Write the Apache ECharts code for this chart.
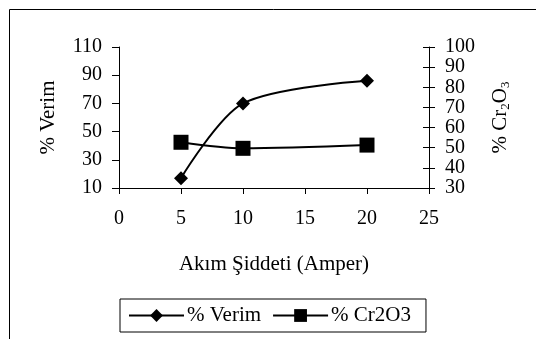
<!DOCTYPE html>
<html>
<head>
<meta charset="utf-8">
<script src="https://cdn.jsdelivr.net/npm/echarts@6/dist/echarts.min.js"></script>
<style>
  html, body { margin: 0; padding: 0; background: #fff; }
  #chart { width: 536px; height: 339px; }
</style>
</head>
<body>
<div id="chart"></div>
<script>
// akım şiddeti (amper)
const currents = [5, 10, 20]
// % verim (sol eksen)
const verim = [17, 70, 86]
// % Cr2O3 (sağ eksen)
const cr2o3 = [52.7, 49.7, 51.3]

const font = 'Liberation Serif'
const chart = echarts.init(document.getElementById('chart'))

const axisLine = { lineStyle: { color: '#000', width: 1 } }
const tickStyle = { color: '#000', fontFamily: font, fontSize: 20 }
const nameStyle = { color: '#000', fontFamily: font, fontSize: 21 }

const option = {
  animation: false,
  backgroundColor: '#fff',
  textStyle: { fontFamily: font },
  graphic: [
    {
      // dış çerçeve
      type: 'rect',
      left: 7, top: 7,
      shape: { width: 560, height: 360 },
      style: { fill: 'none', stroke: '#000', lineWidth: 1 },
      silent: true,
    },
  ],
  grid: { left: 119, right: 107, top: 47, bottom: 151 },
  legend: {
    left: 120,
    top: 299,
    data: ['% Verim', '% Cr2O3'],
    itemWidth: 55,
    itemHeight: 16,
    itemGap: 11,
    padding: [6, 15, 6, 8],
    borderColor: '#000',
    borderWidth: 1,
    textStyle: { ...nameStyle, padding: [0, 0, 0, -2] },
  },
  xAxis: {
    type: 'value',
    min: 0,
    max: 25,
    interval: 5,
    name: 'Akım Şiddeti (Amper)',
    nameLocation: 'middle',
    nameGap: 66,
    nameTextStyle: nameStyle,
    axisLine: { ...axisLine, onZero: false },
    axisTick: { show: true, length: 6, lineStyle: { color: '#000' } },
    axisLabel: { ...tickStyle, margin: 21 },
    splitLine: { show: false },
  },
  yAxis: [
    {
      type: 'value',
      position: 'left',
      min: 10,
      max: 110,
      interval: 20,
      name: '% Verim',
      nameLocation: 'middle',
      nameRotate: 90,
      nameGap: 60,
      nameTextStyle: nameStyle,
      axisLine: { show: true, ...axisLine },
      axisTick: { show: true, length: 7, lineStyle: { color: '#000' } },
      axisLabel: { ...tickStyle, margin: 17 },
      splitLine: { show: false },
    },
    {
      type: 'value',
      position: 'right',
      min: 30,
      max: 100,
      interval: 10,
      name: '{n|% Cr}{s|2}{n|O}{s|3}',
      nameLocation: 'middle',
      nameRotate: 90,
      nameGap: 60,
      nameTextStyle: {
        rich: {
          n: { ...nameStyle },
          s: { ...nameStyle, fontSize: 13, padding: [10, 0, 0, 0] },
        },
      },
      axisLine: { show: true, ...axisLine },
      axisTick: { show: true, length: 6, lineStyle: { color: '#000' } },
      axisLabel: { ...tickStyle, margin: 16 },
      splitLine: { show: false },
    },
    {
      // sağ eksende içe doğru tik işaretleri
      type: 'value',
      position: 'right',
      min: 30,
      max: 100,
      interval: 10,
      axisLine: { show: false },
      axisTick: { show: true, inside: true, length: 6, lineStyle: { color: '#000' } },
      axisLabel: { show: false },
      splitLine: { show: false },
    },
  ],
  series: [
    {
      name: '% Verim',
      type: 'line',
      yAxisIndex: 0,
      smooth: 0.3,
      symbol: 'diamond',
      symbolSize: 14,
      lineStyle: { color: '#000', width: 2 },
      itemStyle: { color: '#000' },
      data: currents.map((c, i) => [c, verim[i]]),
    },
    {
      name: '% Cr2O3',
      type: 'line',
      yAxisIndex: 1,
      smooth: 0.3,
      symbol: 'rect',
      symbolSize: 15,
      lineStyle: { color: '#000', width: 2 },
      itemStyle: { color: '#000' },
      data: currents.map((c, i) => [c, cr2o3[i]]),
    },
  ],
}

chart.setOption(option)
</script>
</body>
</html>
